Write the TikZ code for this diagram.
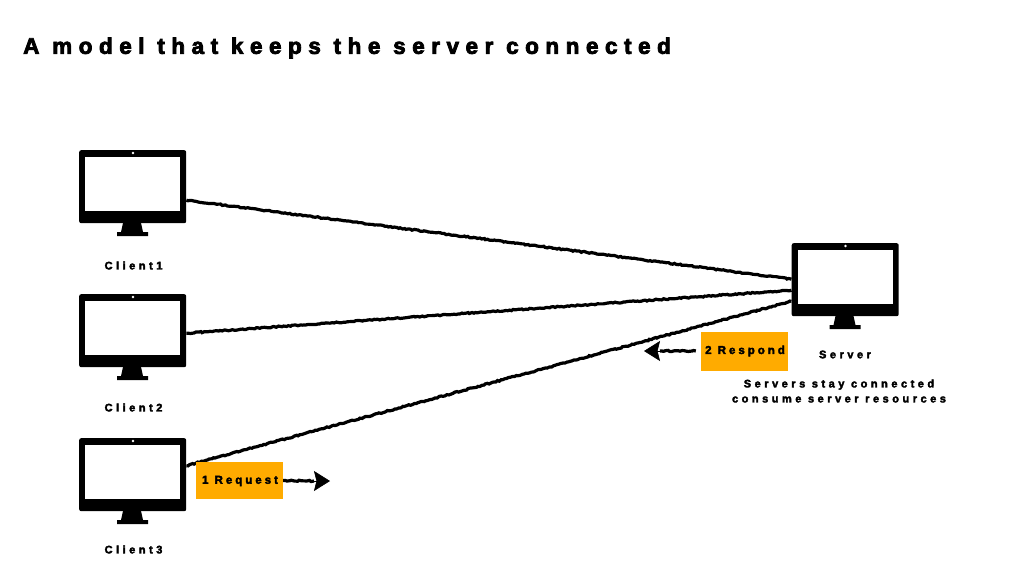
\documentclass[tikz,border=0pt]{standalone}
\usepackage{fontspec}
\setmainfont{Liberation Sans}
\newfontfamily\titlefont{Liberation Sans Bold}[LetterSpace=29,FakeBold=3.5]
\newfontfamily\labelfont{Liberation Sans Bold}[LetterSpace=32,FakeBold=3]
\newfontfamily\tagfont{Liberation Sans Bold}[LetterSpace=26,FakeBold=3]
\usetikzlibrary{decorations.pathmorphing,arrows.meta}
\definecolor{tagorange}{HTML}{FFAB00}
\tikzset{
  x=1pt,y=-1pt,
  body/.style={fill=black,rounded corners=2pt,minimum width=107pt,minimum height=73pt,inner sep=0pt,anchor=north west},
  rough/.style={draw=black,line width=3.2pt,decorate,decoration={random steps,segment length=2pt,amplitude=0.6pt}},
  tipstyle/.style={draw=black,line width=0.6pt,-{Stealth[length=16pt,width=20pt,inset=2.5pt]}},
  lab/.style={font=\labelfont\fontsize{11}{15}\selectfont,align=center,inner sep=0pt,text=black},
  tag/.style={fill=tagorange,inner sep=0pt,text=black},
  tagtext/.style={inner sep=0pt,text=black,font=\tagfont\fontsize{11.5}{14}\selectfont},
  pics/monitor/.style={code={
    \fill (44,73) -- (62,73) -- (64,82) -- (69,82) -- (69,86) -- (38,86) -- (38,82) -- (42,82) -- cycle;
    \fill[white] (6,6.5) rectangle (101,60.5);
    \fill[white] (54,3) circle (1.3pt);
  }},
}
\begin{document}
\begin{tikzpicture}
\useasboundingbox (0,0) rectangle (1033,578);
\fill[white] (0,0) rectangle (1033,578);
\node[anchor=west,inner sep=0pt,font=\titlefont\fontsize{22.5}{26}\selectfont] (title) at (23,48) {A model that keeps the server connected};

\node[body] (c1) at (79,150) {};
\node[body] (c2) at (79,294) {};
\node[body] (c3) at (79,438) {};
\node[body] (srv) at (791.5,243) {};
\pic at (79,150) {monitor};
\pic at (79,294) {monitor};
\pic at (79,438) {monitor};
\pic at (791.5,243) {monitor};

\coordinate (c1r) at ([yshift=-13.5pt]c1.east);
\coordinate (c2r) at ([yshift=-2.5pt]c2.east);
\coordinate (c3r) at ([yshift=9pt]c3.east);
\coordinate (s1) at ([yshift=0.5pt]srv.west);
\coordinate (s2) at ([yshift=-10.5pt]srv.west);
\coordinate (s3) at ([yshift=-21.5pt]srv.west);
\draw[rough] (c1r) -- (s1);
\draw[rough] (c2r) -- (s2);
\draw[rough] (c3r) -- (s3);

\node[lab] (l1) at (133.5,265.5) {Client1};
\node[lab] (l2) at (133.5,407.5) {Client2};
\node[lab] (l3) at (133.5,549.5) {Client3};
\node[lab] (ls) at (845,354.5) {Server};
\node[lab] (note) at (839,391) {Servers stay connected\\consume server resources};

\node[tag,minimum width=87pt,minimum height=37pt] (req) at (239.5,480.5) {};
\node[tag,minimum width=87pt,minimum height=39pt] (res) at (744.5,351) {};
\node[tagtext] (reqt) at (240,481) {1 Request};
\node[tagtext] (rest) at (745,351) {2 Respond};
\coordinate (reqmid) at (314,481);
\coordinate (reqend) at (330,481);
\coordinate (resmid) at (660,351);
\coordinate (resend) at (644,351);
\draw[rough] (req.east) -- (reqmid);
\draw[rough] ([xshift=-5pt]res.west) -- (resmid);
\draw[tipstyle] (reqmid) -- (reqend);
\draw[tipstyle] (resmid) -- (resend);
\end{tikzpicture}
\end{document}
